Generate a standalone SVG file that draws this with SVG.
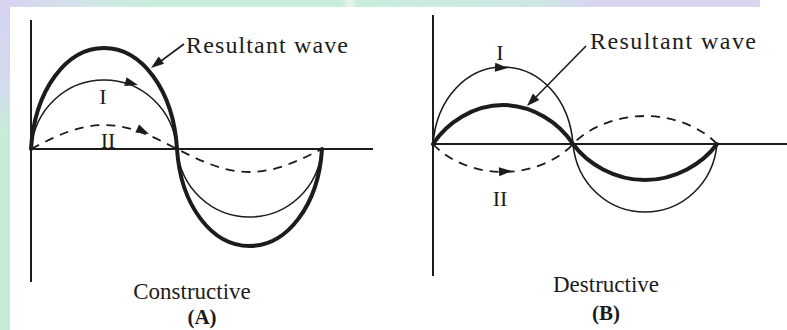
<svg xmlns="http://www.w3.org/2000/svg" width="787" height="330" viewBox="0 0 787 330">
<defs>
<linearGradient id="topband" x1="0" y1="0" x2="1" y2="0">
<stop offset="0" stop-color="#d6d2f0"/>
<stop offset="0.12" stop-color="#d2e6e8"/>
<stop offset="0.2" stop-color="#c8eedb"/>
<stop offset="0.45" stop-color="#c8eedb"/>
<stop offset="0.46" stop-color="#eef4f2"/>
<stop offset="0.47" stop-color="#c8eedb"/>
<stop offset="0.72" stop-color="#cfe6e6"/>
<stop offset="0.78" stop-color="#d8d4f2"/>
<stop offset="1" stop-color="#d8d4f2"/>
</linearGradient>
<linearGradient id="leftband" x1="0" y1="0" x2="0" y2="1">
<stop offset="0" stop-color="#d6d2f0"/>
<stop offset="0.28" stop-color="#d2dcec"/>
<stop offset="0.4" stop-color="#c6ecd8"/>
<stop offset="1" stop-color="#c6ecd8"/>
</linearGradient>
<path id="ah" d="M0,0 L-13,-4.5 L-13,4.5 Z"/>
<style>
.ax{stroke:#1c1c1c;stroke-width:2;fill:none}
.thick{stroke:#1c1c1c;stroke-width:4;fill:none;stroke-linecap:round}
.thin{stroke:#1c1c1c;stroke-width:1.6;fill:none}
.dash{stroke:#1c1c1c;stroke-width:1.8;fill:none;stroke-dasharray:9 7}
.lead{stroke:#1c1c1c;stroke-width:1.6;fill:none}
.head{fill:#1c1c1c}
text{font-family:"Liberation Serif","Times New Roman",serif;fill:#1c1c1c}
.lbl{font-size:24px}
.num{font-size:22px;text-anchor:middle}
.cap{font-size:23px;text-anchor:middle}
.sub{font-size:21px;font-weight:bold;text-anchor:middle}
</style>
</defs>
<rect x="0" y="0" width="787" height="330" fill="#ffffff"/>
<rect x="0" y="0" width="760" height="7" fill="url(#topband)"/>
<rect x="0" y="0" width="10" height="330" fill="url(#leftband)"/>

<g id="panelA">
<g id="axesA">
<line class="ax" x1="31" y1="20" x2="31" y2="282"/>
<line class="ax" x1="31" y1="149" x2="373" y2="149"/>
</g>
<g id="waveA-resultant">
<path class="thick" d="M31,149 C34.65,90.4 66.04,48 104,48 C141.96,48 173.35,90.4 177,149 C180.6,205.3 211.8,246 249.5,246 C287.2,246 318.4,205.3 322,149"/>
</g>
<g id="waveA-I">
<path class="thin" d="M31,149 C34.65,109 66.04,80 104,80 C141.96,80 173.35,109 177,149 C180.6,188.4 211.8,217 249.5,217 C287.2,217 318.4,188.4 322,149"/>
<use href="#ah" class="head" transform="translate(138,85) rotate(15)"/>
<text class="num" x="103" y="104">I</text>
</g>
<g id="waveA-II">
<path class="dash" d="M31,149 C54.8,136.7 77.6,125 104,125 C130.4,125 153.2,136.7 177,149 C200.6,160.8 223.3,172 249.5,172 C275.7,172 298.4,160.8 322,149"/>
<use href="#ah" class="head" transform="translate(149,134) rotate(25)"/>
<text class="num" x="108" y="148">II</text>
</g>
<g id="labelA">
<text class="lbl" x="186" y="53" textLength="162" lengthAdjust="spacing">Resultant wave</text>
<text class="cap" x="192" y="299">Constructive</text>
<text class="sub" x="202" y="324">(A)</text>
</g>
</g>

<g id="panelB">
<g id="axesB">
<line class="ax" x1="433" y1="15" x2="433" y2="276"/>
<line class="ax" x1="433" y1="144" x2="787" y2="144"/>
</g>
<g id="waveB-I">
<path class="thin" d="M433,144 C436.5,98.8 466.6,67 503,67 C539.4,67 569.5,98.8 573,144 C576.6,183.4 607.6,212 645,212 C682.4,212 713.4,183.4 717,144"/>
<use href="#ah" class="head" transform="translate(508,68) rotate(3)"/>
<text class="num" x="500" y="60">I</text>
</g>
<g id="waveB-resultant">
<path class="thick" d="M433,144 C447,122.5 473.6,105 503,105 C532.4,105 559,122.5 573,144 C587.4,163.8 614.8,180 645,180 C675.2,180 702.6,163.8 717,144"/>
</g>
<g id="waveB-II">
<path class="dash" d="M433,144 C447,159.4 473.6,172 503,172 C532.4,172 559,159.4 573,144 C587.4,128.6 614.8,116 645,116 C675.2,116 702.6,128.6 717,144"/>
<use href="#ah" class="head" transform="translate(512,171) rotate(-3)"/>
<text class="num" x="500" y="206">II</text>
</g>
<g id="labelB">
<text class="lbl" x="590" y="49" textLength="166" lengthAdjust="spacing">Resultant wave</text>
<text class="cap" x="606" y="292">Destructive</text>
<text class="sub" x="606" y="320">(B)</text>
</g>
</g>

<g id="connectors">
<line class="lead" x1="184" y1="44" x2="161" y2="61"/>
<use href="#ah" class="head" transform="translate(151,68) rotate(143)"/>
<line class="lead" x1="586" y1="46" x2="536" y2="97"/>
<use href="#ah" class="head" transform="translate(527,106) rotate(134.5)"/>
</g>
</svg>
